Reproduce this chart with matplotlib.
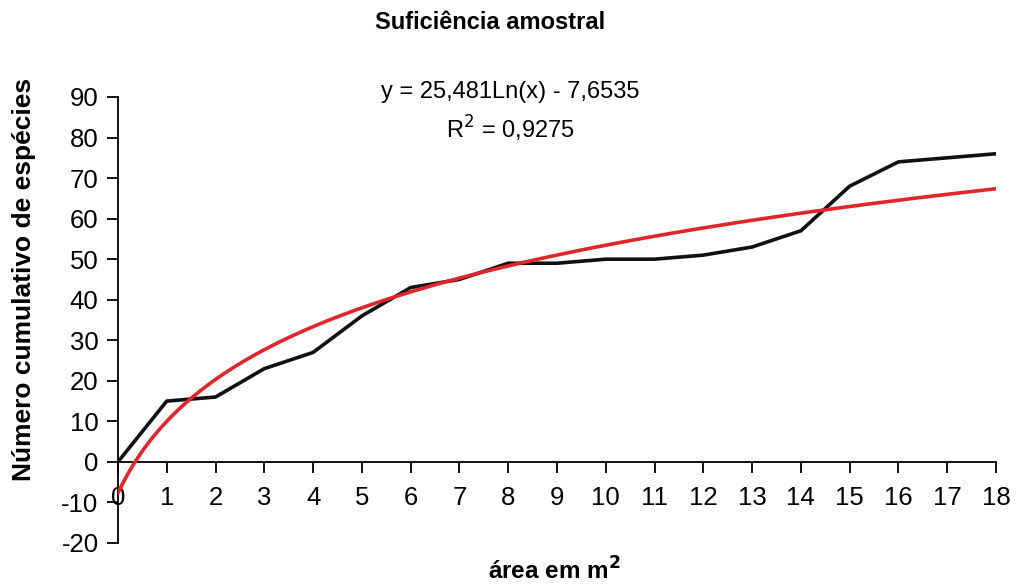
import numpy as np
import matplotlib.pyplot as plt

plt.rcParams['font.family'] = ['Liberation Sans', 'DejaVu Sans']
plt.rcParams['axes.unicode_minus'] = False

# dados
area = [0, 1, 2, 3, 4, 5, 6, 7, 8, 9, 10, 11, 12, 13, 14, 15, 16, 17, 18]
especies = [0, 15, 16, 23, 27, 36, 43, 45, 49, 49, 50, 50, 51, 53, 57, 68, 74, 75, 76]

# coeficientes da linha de tendencia (mostrados no grafico)
coef_a = 25.481
coef_b = -7.6535
r2 = 0.9275

yticks = [-20, -10, 0, 10, 20, 30, 40, 50, 60, 70, 80, 90]

# tendencia logaritmica (Excel usa x = 1..n na categoria)
xt = np.linspace(0, 18, 200)
yt = coef_a * np.log(xt + 1) + coef_b

fig = plt.figure(figsize=(10.16, 5.85), dpi=100)
ax = fig.add_axes([0.1161, 0.0718, 0.8642, 0.7624])

ax.plot(area, especies, color='#111111', lw=2.6, zorder=3)
ax.plot(xt, yt, color='#e0262b', lw=2.6, zorder=4)

ax.set_xlim(0, 18)
ax.set_ylim(-20, 90)
ax.set_xticks(area)
ax.set_yticks(yticks)

ax.spines['top'].set_visible(False)
ax.spines['right'].set_visible(False)
ax.spines['bottom'].set_position(('data', 0))
ax.spines['left'].set_linewidth(1.3)
ax.spines['bottom'].set_linewidth(1.3)

ax.tick_params(axis='y', direction='out', length=8, width=1.3, labelsize=18.5, pad=6)
ax.tick_params(axis='x', direction='out', length=8, width=1.3, labelsize=18.5, pad=9)

fig.text(0.024, 0.523, 'Número cumulativo de espécies', fontsize=19, fontweight='bold',
         rotation=90, ha='center', va='center')
fig.text(0.546, 0.0, 'área em m$^\\mathbf{2}$', fontsize=17.5, fontweight='bold', ha='center', va='bottom')

fig.text(0.482, 0.962, 'Suficiência amostral', fontsize=17, fontweight='bold', ha='center', va='center')

eq = 'y = %sLn(x) - %s' % (str(coef_a).replace('.', ','), str(-coef_b).replace('.', ','))
fig.text(0.502, 0.843, eq, fontsize=17, ha='center', va='center')
fig.text(0.502, 0.780, 'R$^2$ = ' + str(r2).replace('.', ','), fontsize=17, ha='center', va='center')

fig.savefig('out.png', dpi=100)
